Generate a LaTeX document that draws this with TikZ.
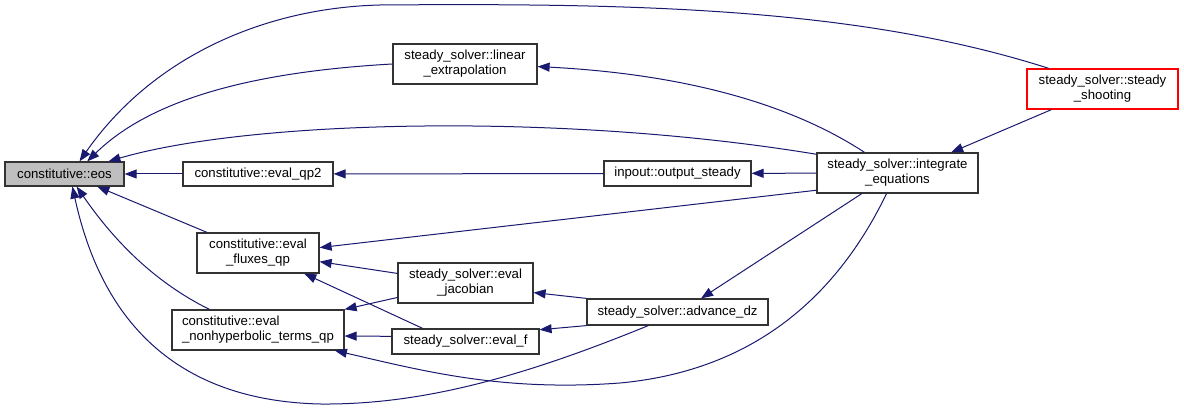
\documentclass[tikz,border=0pt]{standalone}
\usepackage{fontspec}
\setmainfont{Liberation Sans}
\usetikzlibrary{arrows.meta}

\definecolor{edgeblue}{RGB}{25,25,112}
\definecolor{boxgray}{RGB}{191,191,191}

\tikzset{
  fn/.style={draw=black!80, line width=0.6pt, inner sep=0pt, align=center,
    font=\fontsize{6.6}{7.5}\selectfont},
  call/.style={draw=edgeblue, line width=0.5pt,
    -{Triangle[length=6pt,width=4.5pt]}},
}

\begin{document}
\begin{tikzpicture}[x=0.5pt,y=-0.5pt]
    \useasboundingbox (0,0) rectangle (1184,410);

    % Callee
    \node[fn, fill=boxgray, minimum width=59.5pt, minimum height=12pt] (eos) at (64.5,174) {constitutive::eos};

    % Constitutive routines
    \node[fn, minimum width=75pt, minimum height=12pt] (qp2) at (258,174) {constitutive::eval\_qp2};
    \node[fn, minimum width=61pt, minimum height=20pt] (fluxes) at (258,253) {constitutive::eval\\\_fluxes\_qp};
    \node[fn, align=left, minimum width=86pt, minimum height=20pt] (nonhyp) at (258,330) {constitutive::eval\\\_nonhyperbolic\_terms\_qp};

    % Solver routines
    \node[fn, minimum width=72pt, minimum height=20pt] (linear) at (465,64) {steady\_solver::linear\\\_extrapolation};
    \node[fn, minimum width=67.5pt, minimum height=20pt] (jac) at (465.5,283) {steady\_solver::eval\\\_jacobian};
    \node[fn, minimum width=73.5pt, minimum height=12.5pt] (evalf) at (465.5,341.5) {steady\_solver::eval\_f};
    \node[fn, minimum width=73.5pt, minimum height=12.5pt] (output) at (677.5,173.5) {inpout::output\_steady};
    \node[fn, minimum width=90.5pt, minimum height=13pt] (adv) at (677.5,312) {steady\_solver::advance\_dz};
    \node[fn, minimum width=80.5pt, minimum height=20pt] (integ) at (897.5,173) {steady\_solver::integrate\\\_equations};

    % Caller
    \node[fn, draw=red, minimum width=75.5pt, minimum height=20pt] (shoot) at (1102.5,89) {steady\_solver::steady\\\_shooting};

    % Calls into eos
    \draw[call] (shoot.159) .. controls (860,8) and (640,3) .. (380,5) .. controls (260,8) and (150,60) .. (eos.40);
    \draw[call] (linear.west) .. controls (250,72) and (150,100) .. (eos.29);
    \draw[call] (integ.167) .. controls (560,112) and (250,120) .. (eos.16);
    \draw[call] (qp2) -- (eos);
    \draw[call] (fluxes.158) -- (eos.-21);
    \draw[call] (nonhyp.157) .. controls (150,280) and (110,235) .. (eos.-46);
    \draw[call] (adv.205) .. controls (520,378) and (420,405) .. (320,404) .. controls (150,400) and (95,290) .. (eos.-58);

    % Other calls
    \draw[call] (integ.148) .. controls (800,110) and (700,75) .. (linear.-2);
    \draw[call] (integ) -- (output);
    \draw[call] (output) -- (qp2);
    \draw[call] (integ.192) -- (fluxes.5);
    \draw[call] (jac.172) -- (fluxes.-8);
    \draw[call] (evalf.163) -- (fluxes.-24);
    \draw[call] (jac.192) -- (nonhyp.north east);
    \draw[call] (evalf.176) -- (nonhyp.-4);
    \draw[call] (integ.242) .. controls (840,290) and (760,370) .. (620,383) .. controls (500,392) and (420,370) .. (nonhyp.-15);
    \draw[call] (adv.north west) -- (jac.-8);
    \draw[call] (adv.south west) -- (evalf.9);
    \draw[call] (integ.210) -- (adv.30);
    \draw[call] (shoot.202) -- (integ.21);

\end{tikzpicture}
\end{document}
